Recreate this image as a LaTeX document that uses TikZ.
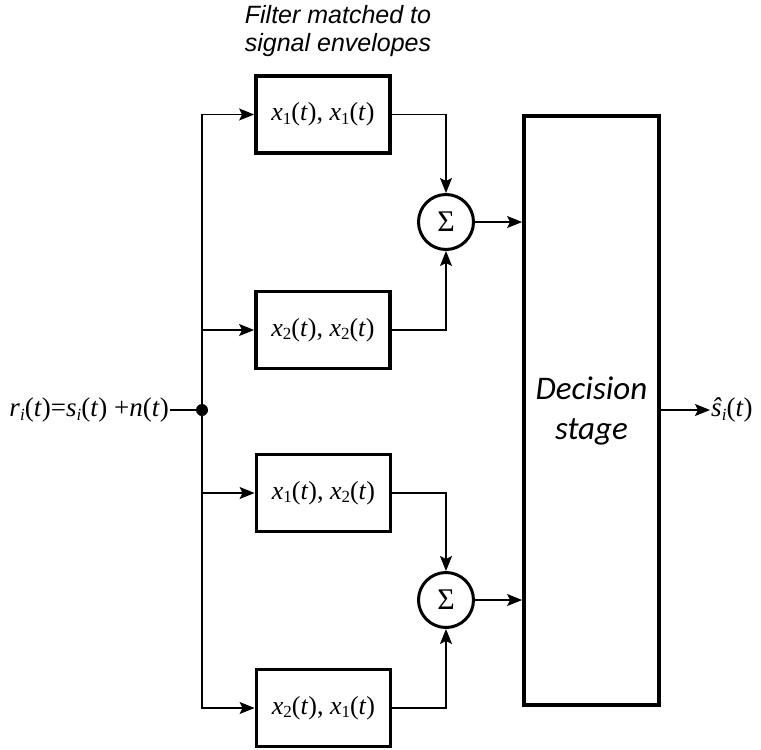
\documentclass[tikz,border=0pt]{standalone}
\usepackage{fontspec}
\setmainfont{Liberation Serif}
\newfontfamily\titlefont{Liberation Sans}
\newfontfamily\decfont{Carlito}
\usetikzlibrary{arrows.meta}
\newcommand\mysub[1]{\raisebox{-0.3ex}{\fontsize{17}{17}\selectfont #1}}
\newcommand\xt[1]{\textit{x}\mysub{#1}(\textit{t})}
\begin{document}
\begin{tikzpicture}[x=1pt,y=-1pt,
  filt/.style={draw,line width=3.8pt,minimum width=134pt,minimum height=77pt,inner sep=0pt,
    font=\fontsize{26}{30}\selectfont},
  sumnode/.style={draw,circle,line width=3pt,minimum size=55pt,inner sep=0pt,
    font=\fontsize{30}{34}\selectfont},
  conn/.style={line width=1.4pt},
  arr/.style={conn,-{Stealth[length=15pt,width=12pt,inset=3pt]}}]
\useasboundingbox (0,0) rectangle (761,750);
\node[font=\titlefont\itshape\fontsize{25}{28}\selectfont,align=center,anchor=north,inner sep=0pt] (title) at (338,5)
  {Filter matched to\\signal envelopes};
\node[filt] (b1) at (323,114.5) {\xt{1}, \xt{1}};
\node[filt] (b2) at (323,330) {\xt{2}, \xt{2}};
\node[filt] (b3) at (323.5,493) {\xt{1}, \xt{2}};
\node[filt] (b4) at (323.5,708) {\xt{2}, \xt{1}};
\node[sumnode] (s1) at (446,222) {\raisebox{-0.1ex}{Σ}};
\node[sumnode] (s2) at (446,600) {\raisebox{-0.1ex}{Σ}};
\node[draw,line width=3.8pt,minimum width=135pt,minimum height=589pt,inner sep=0pt,
  font=\decfont\itshape\fontsize{33}{40}\selectfont,align=center] (dec) at (591.5,410.5) {\raisebox{-8pt}{\parbox{120pt}{\centering Decision\\stage}}};
\node[anchor=east,font=\fontsize{27}{30}\selectfont,inner sep=1pt] (in) at (170,410)
  {\textit{r}\mysub{\textit{i}}(\textit{t})=\textit{s}\mysub{\textit{i}}(\textit{t}) +\textit{n}(\textit{t})};
\coordinate (dot) at (202,410);
\fill (dot) circle (6pt);
\draw[conn] (in.east) -- (dot);
\draw[arr] (dot) |- (b1.west);
\draw[arr] (dot) |- (b2.west);
\draw[arr] (dot) |- (b3.west);
\draw[arr] (dot) |- (b4.west);
\draw[arr] (b1.east) -| (s1.north);
\draw[arr] (b2.east) -| (s1.south);
\draw[arr] (b3.east) -| (s2.north);
\draw[arr] (b4.east) -| (s2.south);
\draw[arr] (s1.east) -- (s1.east -| dec.west);
\draw[arr] (s2.east) -- (s2.east -| dec.west);
\node[anchor=west,font=\fontsize{27}{30}\selectfont,inner sep=1pt] (out) at (710,410)
  {\textit{\^{s}}\mysub{\textit{i}}(\textit{t})};
\draw[arr] (dec.east |- out.west) -- (out.west);
\end{tikzpicture}
\end{document}
